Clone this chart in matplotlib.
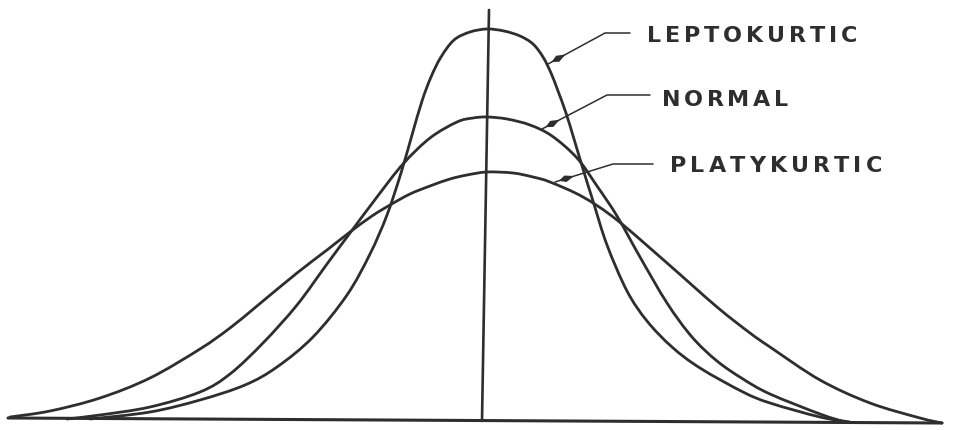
import matplotlib
matplotlib.use("Agg")
import matplotlib.pyplot as plt
import numpy as np
from matplotlib.patches import Polygon, PathPatch
from matplotlib.path import Path

# Horizontal position measured from the mean (centre line) and height above the baseline
lepto_x = [-397, -337, -287, -242, -210, -174, -140, -117, -100, -86, -75, -65, -56, -46, -33, -17, 0,
           17, 33, 46, 56, 64, 71, 79, 87, 96, 106, 120, 140, 160, 185, 213, 256, 283, 333, 363]
lepto_h = [0, 7, 19, 34, 52, 82, 124, 165, 204, 246, 284, 318, 342, 362, 379, 387, 390,
           388, 383, 375, 362, 346, 328, 306, 280, 250, 218, 174, 128, 98, 72, 51, 27, 16, 2, -3]

norm_x = [-420, -387, -337, -287, -257, -224, -190, -160, -137, -110, -84, -57, -30, -14, 0,
          20, 43, 65, 90, 110, 130, 153, 180, 205, 230, 256, 283, 333, 358]
norm_h = [0, 4, 12, 27, 45, 76, 114, 155, 186, 222, 255, 281, 297, 301, 302,
          300, 294, 283, 261, 233, 203, 162, 116, 82, 58, 40, 25, 5, -3]

platy_x = [-477, -437, -387, -337, -287, -257, -230, -190, -160, -137, -115, -97, -77, -57, -37, -20, 0,
           26, 46, 63, 96, 130, 180, 230, 263, 283, 333, 383, 433, 455]
platy_h = [2, 8, 21, 41, 70, 91, 113, 146, 169, 187, 203, 214, 225, 233, 240, 244, 247,
           246, 242, 237, 222, 199, 156, 112, 86, 72, 39, 16, 1, -4]

labels = ["LEPTOKURTIC", "NORMAL", "PLATYKURTIC"]

INK = "#2e2e2e"


def smooth_path(xs, hs):
    """Cubic Bezier path passing through every measured point (Catmull-Rom tangents)."""
    p = np.column_stack([xs, hs]).astype(float)
    verts = [p[0]]
    codes = [Path.MOVETO]
    for i in range(len(p) - 1):
        p0 = p[i - 1] if i > 0 else p[i]
        p1, p2 = p[i], p[i + 1]
        p3 = p[i + 2] if i + 2 < len(p) else p[i + 1]
        c1 = p1 + (p2 - p0) / 6.0
        c2 = p2 - (p3 - p1) / 6.0
        verts += [c1, c2, p2]
        codes += [Path.CURVE4] * 3
    return Path(verts, codes)


fig = plt.figure(figsize=(9.54, 4.30), dpi=100)
fig.patch.set_facecolor("white")
ax = fig.add_axes([0, 0, 1, 1])
ax.set_xlim(-487, 467)
ax.set_ylim(-11, 419)
ax.axis("off")

# baseline and centre line
ax.plot([-479, 455], [1, -4], color=INK, lw=2.2, solid_capstyle="round")
ax.plot([-5, 2], [-2, 409], color=INK, lw=1.9, solid_capstyle="round")

for xs, hs in [(lepto_x, lepto_h), (norm_x, norm_h), (platy_x, platy_h)]:
    ax.add_patch(PathPatch(smooth_path(xs, hs), facecolor="none", edgecolor=INK,
                           lw=2.0, joinstyle="round", capstyle="round"))

# leader lines with small dart heads
leaders = [
    [(143, 386), (118, 386), (61, 355)],
    [(163, 324), (120, 324), (55, 290)],
    [(166, 255), (126, 255), (68, 237)],
]
for pts in leaders:
    px, py = zip(*pts)
    ax.plot(px, py, color=INK, lw=1.1, solid_capstyle="round")
    (x1, y1), (x2, y2) = pts[1], pts[2]
    d = np.array([x2 - x1, y2 - y1], float)
    d /= np.hypot(*d)
    n = np.array([-d[1], d[0]])
    tip = np.array([x2, y2]) - d * 4
    tail = tip - d * 16
    mid = tip - d * 7
    dart = [tip, mid + n * 3.4, tail, mid - n * 3.4]
    ax.add_patch(Polygon(dart, closed=True, color=INK, lw=0))

# spaced capital lettering
renderer = fig.canvas.get_renderer()
text_kw = dict(fontsize=16, fontweight="bold", color=INK, family="DejaVu Sans")


def spaced_text(x0, y, s, width):
    widths = []
    for ch in s:
        t = ax.text(0, 0, ch, **text_kw)
        widths.append(t.get_window_extent(renderer).width)
        t.remove()
    gap = (width - sum(widths)) / (len(s) - 1)
    x = x0
    for ch, w in zip(s, widths):
        ax.text(x, y, ch, ha="left", va="baseline", **text_kw)
        x += w + gap


spaced_text(160, 377, labels[0], 210)
spaced_text(175, 313, labels[1], 126)
spaced_text(183, 247, labels[2], 212)

fig.savefig("out.png", dpi=100, facecolor="white")
